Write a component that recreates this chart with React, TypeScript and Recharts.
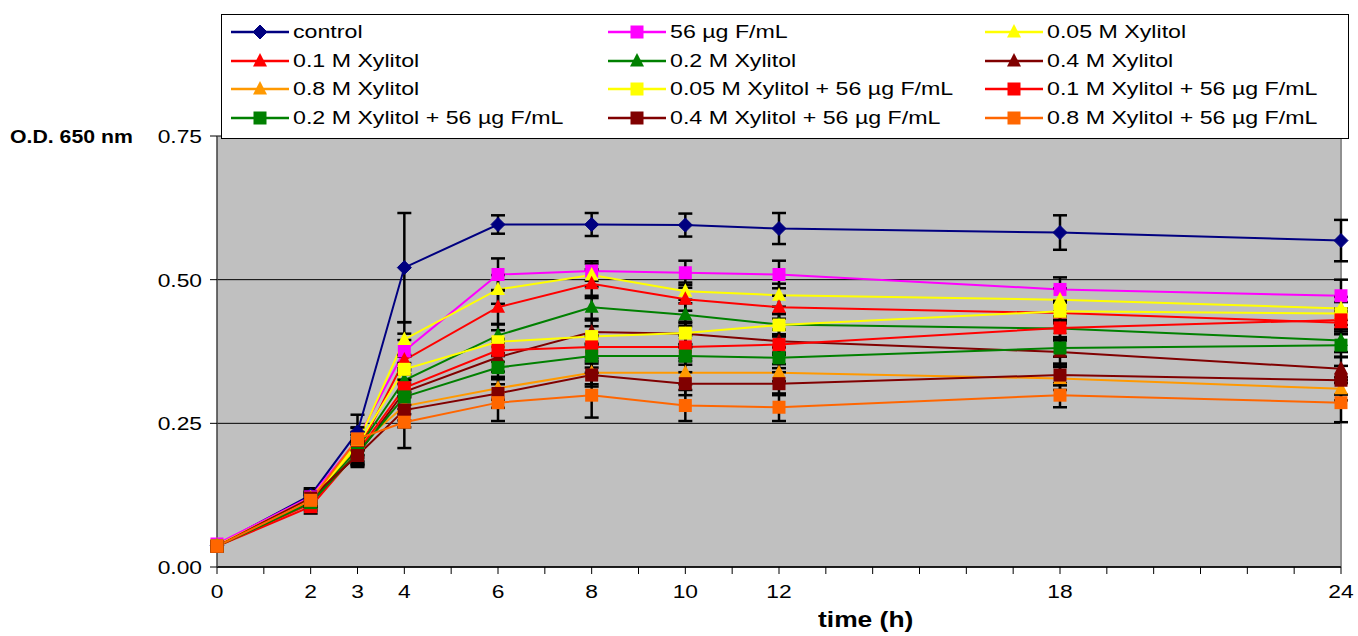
import { CartesianGrid, ErrorBar, Line, LineChart, ReferenceLine, XAxis, YAxis } from "recharts";

const hours = [0, 2, 3, 4, 6, 8, 10, 12, 18, 24];
const xTicks = [0, 1, 2, 3, 4, 5, 6, 7, 8, 9, 10, 11, 12, 13, 14, 15, 16, 17, 18, 19, 20, 21, 22, 23, 24];
const xLabels = [0, 2, 3, 4, 6, 8, 10, 12, 18, 24];
const yTicks = [0, 0.25, 0.5, 0.75];

const control = [0.038, 0.125, 0.235, 0.521, 0.596, 0.596, 0.595, 0.589, 0.582, 0.568];
const f56 = [0.040, 0.122, 0.222, 0.376, 0.509, 0.515, 0.512, 0.509, 0.483, 0.472];
const x005 = [0.037, 0.120, 0.215, 0.396, 0.483, 0.508, 0.480, 0.473, 0.465, 0.450];
const x01 = [0.036, 0.110, 0.200, 0.360, 0.452, 0.493, 0.466, 0.452, 0.442, 0.425];
const x02 = [0.036, 0.115, 0.205, 0.325, 0.403, 0.452, 0.439, 0.422, 0.415, 0.394];
const x04 = [0.036, 0.118, 0.195, 0.305, 0.365, 0.409, 0.406, 0.393, 0.374, 0.345];
const x08 = [0.036, 0.118, 0.210, 0.280, 0.311, 0.338, 0.338, 0.338, 0.328, 0.310];
const x005F = [0.037, 0.118, 0.212, 0.344, 0.392, 0.401, 0.407, 0.421, 0.445, 0.441];
const x01F = [0.036, 0.105, 0.200, 0.312, 0.377, 0.383, 0.383, 0.387, 0.416, 0.430];
const x02F = [0.036, 0.112, 0.198, 0.296, 0.347, 0.367, 0.367, 0.364, 0.381, 0.386];
const x04F = [0.036, 0.120, 0.194, 0.273, 0.302, 0.334, 0.319, 0.319, 0.334, 0.325];
const x08F = [0.036, 0.116, 0.223, 0.252, 0.286, 0.299, 0.281, 0.278, 0.299, 0.286];

const controlErr = [0.004, 0.012, 0.03, 0.095, 0.016, 0.02, 0.02, 0.027, 0.03, 0.036];
const f56Err = [0.004, 0.012, 0.02, 0.03, 0.028, 0.017, 0.021, 0.024, 0.021, 0.028];
const x005Err = [0.004, 0.01, 0.02, 0.03, 0.025, 0.02, 0.015, 0.02, 0.02, 0.02];
const x01Err = [0.004, 0.012, 0.018, 0.035, 0.03, 0.025, 0.02, 0.02, 0.018, 0.02];
const x02Err = [0.004, 0.01, 0.02, 0.03, 0.02, 0.02, 0.02, 0.018, 0.015, 0.02];
const x04Err = [0.004, 0.012, 0.018, 0.03, 0.025, 0.02, 0.018, 0.02, 0.02, 0.02];
const x08Err = [0.004, 0.01, 0.02, 0.025, 0.02, 0.02, 0.02, 0.015, 0.02, 0.02];
const x005FErr = [0.004, 0.01, 0.018, 0.025, 0.02, 0.018, 0.02, 0.02, 0.018, 0.02];
const x01FErr = [0.004, 0.012, 0.02, 0.03, 0.02, 0.02, 0.02, 0.018, 0.02, 0.02];
const x02FErr = [0.004, 0.01, 0.02, 0.03, 0.02, 0.02, 0.015, 0.018, 0.015, 0.02];
const x04FErr = [0.004, 0.012, 0.02, 0.03, 0.025, 0.02, 0.02, 0.02, 0.018, 0.025];
const x08FErr = [0.004, 0.01, 0.02, 0.045, 0.032, 0.039, 0.027, 0.024, 0.021, 0.034];

type Shape = "diamond" | "square" | "triangle";

const series: { key: string; name: string; color: string; shape: Shape; values: number[]; err: number[] }[] = [
  { key: "control", name: "control", color: "#000080", shape: "diamond", values: control, err: controlErr },
  { key: "f56", name: "56 µg F/mL", color: "#FF00FF", shape: "square", values: f56, err: f56Err },
  { key: "x005", name: "0.05 M Xylitol", color: "#FFFF00", shape: "triangle", values: x005, err: x005Err },
  { key: "x01", name: "0.1 M Xylitol", color: "#FF0000", shape: "triangle", values: x01, err: x01Err },
  { key: "x02", name: "0.2 M Xylitol", color: "#008000", shape: "triangle", values: x02, err: x02Err },
  { key: "x04", name: "0.4 M Xylitol", color: "#800000", shape: "triangle", values: x04, err: x04Err },
  { key: "x08", name: "0.8 M Xylitol", color: "#FF9900", shape: "triangle", values: x08, err: x08Err },
  { key: "x005F", name: "0.05 M Xylitol + 56 µg F/mL", color: "#FFFF00", shape: "square", values: x005F, err: x005FErr },
  { key: "x01F", name: "0.1 M Xylitol + 56 µg F/mL", color: "#FF0000", shape: "square", values: x01F, err: x01FErr },
  { key: "x02F", name: "0.2 M Xylitol + 56 µg F/mL", color: "#008000", shape: "square", values: x02F, err: x02FErr },
  { key: "x04F", name: "0.4 M Xylitol + 56 µg F/mL", color: "#800000", shape: "square", values: x04F, err: x04FErr },
  { key: "x08F", name: "0.8 M Xylitol + 56 µg F/mL", color: "#FF6600", shape: "square", values: x08F, err: x08FErr },
];

const data = hours.map((h, i) => {
  const row: any = { t: h };
  series.forEach((s) => {
    row[s.key] = s.values[i];
    row[s.key + "Err"] = s.err[i];
  });
  return row;
});

const FONT = "'Liberation Sans', Arial, sans-serif";

function marker(shape: Shape, color: string, cx: number, cy: number, key?: any) {
  if (shape === "diamond") {
    return (
      <polygon key={key} points={`${cx},${cy - 7} ${cx + 7},${cy} ${cx},${cy + 7} ${cx - 7},${cy}`} fill={color} stroke={color} />
    );
  }
  if (shape === "square") {
    return <rect key={key} x={cx - 6.5} y={cy - 6.5} width={13} height={13} fill={color} stroke="none" />;
  }
  return (
    <polygon key={key} points={`${cx},${cy - 8} ${cx + 7},${cy + 5.5} ${cx - 7},${cy + 5.5}`} fill={color} stroke="none" />
  );
}

const YTick = (props: any) => {
  const { x, y, payload } = props;
  return (
    <g transform={`translate(${x},${y})`}>
      <text transform="scale(1.2,1)" textAnchor="end" dy="0.36em" fontSize={19} fontFamily={FONT} fill="#000">
        {payload.value.toFixed(2)}
      </text>
    </g>
  );
};

const XTick = (props: any) => {
  const { x, y, payload } = props;
  if (!xLabels.includes(payload.value)) return <g />;
  return (
    <g transform={`translate(${x},${y})`}>
      <text transform="scale(1.2,1)" textAnchor="middle" dy="0.71em" fontSize={19} fontFamily={FONT} fill="#000">
        {payload.value}
      </text>
    </g>
  );
};

function LegendBox() {
  return (
    <div
      style={{
        position: "absolute",
        left: 221,
        top: 14,
        width: 1126,
        height: 123,
        background: "#fff",
        border: "1px solid #000",
        zIndex: 2,
      }}
    >
      {series.map((s, i) => {
        const col = i % 3;
        const row = Math.floor(i / 3);
        return (
          <div
            key={s.key}
            style={{ position: "absolute", left: 9 + col * 377, top: 5 + row * 28.7, height: 24, display: "flex", alignItems: "center" }}
          >
            <svg width={60} height={24}>
              <line x1={0} y1={12} x2={58} y2={12} stroke={s.color} strokeWidth={2.5} />
              {marker(s.shape, s.color, 29, 12)}
            </svg>
            <span
              style={{
                display: "inline-block",
                fontFamily: FONT,
                fontSize: 19,
                color: "#000",
                whiteSpace: "nowrap",
                transform: "scaleX(1.22)",
                transformOrigin: "left center",
                marginLeft: 2,
              }}
            >
              {s.name}
            </span>
          </div>
        );
      })}
    </div>
  );
}

export default function App() {
  return (
    <div style={{ position: "absolute", left: 0, top: 0, width: 1358, height: 636, background: "#fff" }}>
      <LineChart width={1358} height={636} data={data} margin={{ top: 136, right: 17, bottom: 0, left: 0 }}>
        <CartesianGrid fill="#C0C0C0" stroke="#000" strokeOpacity={1} vertical={false} />
        <XAxis
          dataKey="t"
          type="number"
          domain={[0, 24]}
          ticks={xTicks}
          interval={0}
          height={69}
          tickSize={7}
          tickMargin={11}
          tick={<XTick />}
          axisLine={{ stroke: "#000", strokeWidth: 1.5 }}
          tickLine={{ stroke: "#000" }}
        />
        <YAxis
          type="number"
          domain={[0, 0.75]}
          ticks={yTicks}
          allowDataOverflow
          width={217}
          tickSize={7}
          tickMargin={8}
          tick={<YTick />}
          axisLine={{ stroke: "#404040", strokeWidth: 1.5 }}
          tickLine={{ stroke: "#000" }}
        />
        <ReferenceLine x={24} stroke="#909090" strokeWidth={2} />
        {series.map((s) => (
          <Line
            key={s.key}
            dataKey={s.key}
            name={s.name}
            type="linear"
            stroke={s.color}
            strokeWidth={2}
            isAnimationActive={false}
            dot={(p: any) => marker(s.shape, s.color, p.cx, p.cy, `${s.key}-${p.index}`)}
            activeDot={false}
          >
            <ErrorBar dataKey={s.key + "Err"} direction="y" width={7} stroke="#000" strokeWidth={2.5} />
          </Line>
        ))}
      </LineChart>
      <LegendBox />
      <div
        style={{
          position: "absolute",
          left: 10,
          top: 127,
          fontFamily: FONT,
          fontWeight: "bold",
          fontSize: 18,
          whiteSpace: "nowrap",
          transform: "scaleX(1.18)",
          transformOrigin: "left center",
        }}
      >
        O.D. 650 nm
      </div>
      <div
        style={{
          position: "absolute",
          left: 818,
          top: 607,
          fontFamily: FONT,
          fontWeight: "bold",
          fontSize: 22,
          whiteSpace: "nowrap",
          transform: "scaleX(1.2)",
          transformOrigin: "left center",
        }}
      >
        time (h)
      </div>
    </div>
  );
}
